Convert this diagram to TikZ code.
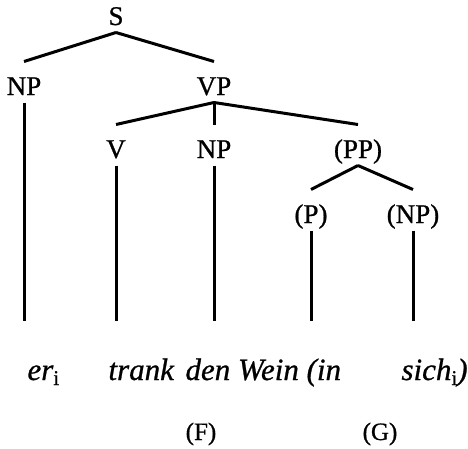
\documentclass[tikz,border=0pt]{standalone}
\usepackage{fontspec}
\setmainfont{Liberation Serif}[FakeBold=0.8]
\newcommand{\idx}{\raisebox{-5pt}{\fontsize{21}{21}\selectfont\upshape i}}
\begin{document}
\begin{tikzpicture}[x=1pt, y=-1pt, line width=3pt]
	\tikzstyle{cat}  = [font=\fontsize{27}{27}\selectfont, anchor=base, inner sep=0pt, text height=32pt, text depth=6pt]
	\tikzstyle{word} = [font=\fontsize{31}{31}\selectfont\itshape, anchor=base west, inner sep=0pt]
	\tikzstyle{tag}  = [font=\fontsize{25}{25}\selectfont, anchor=base, inner sep=0pt]

	\useasboundingbox (0,0) rectangle (468,448);

	\foreach \name/\txt/\x/\y in {S/S/116/25, NPa/NP/24/95, VP/VP/214/95, V/V/116/158, NPb/NP/214/158, PP/(PP)/358/158, P/(P)/311/223, NPc/(NP)/413/223}
		\node[cat] (\name) at (\x, \y) {\txt};

	\foreach \from/\to in {S/NPa, S/VP, VP/V, VP/NPb, VP/PP, PP/P, PP/NPc}
		\draw (\from.south) -- (\to.north);

	% lines down to the words
	\foreach \n in {NPa, V, NPb, P, NPc} {
		\coordinate (\n-end) at (\n.south |- 0,321);
		\draw (\n.south) -- (\n-end);
	}

	\node[word] (er) at (26, 380) {er\idx};
	\node[word] (trank) at (107, 380) {trank};
	\node[word] (wein) at (184, 380) {den Wein (in};
	\node[word] (sich) at (400, 380) {sich\idx)};

	\node[tag] (F) at (201, 440) {(F)};
	\node[tag] (G) at (380, 440) {(G)};
\end{tikzpicture}
\end{document}
